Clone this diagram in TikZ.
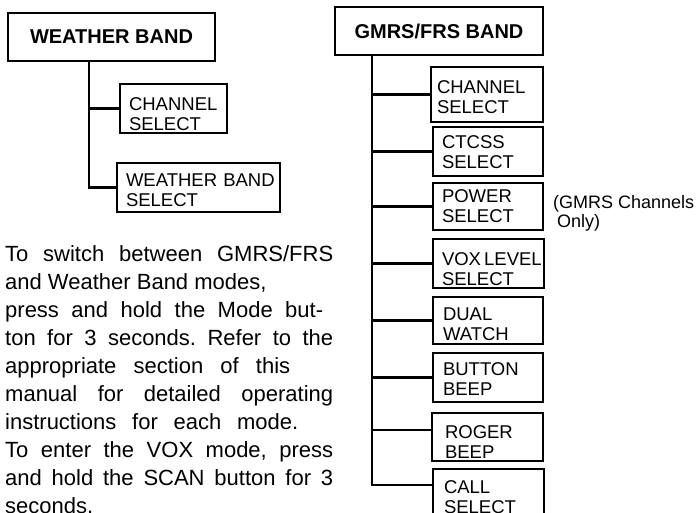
\documentclass[tikz,border=0pt]{standalone}
\usepackage{fontspec}
\setmainfont{Liberation Sans}
\usetikzlibrary{positioning}
\tikzset{
  band head/.style={
    rectangle,
    draw,
    line width=2.6pt,
    anchor=north west,
    outer sep=0pt,
    inner sep=0pt,
    minimum height=48pt,
    font=\bfseries\fontsize{20}{24}\selectfont,
  },
  menu item/.style={
    rectangle,
    draw,
    line width=2.6pt,
    anchor=north west,
    outer sep=0pt,
    inner ysep=0pt,
    align=left,
    font=\fontsize{18.5}{20.5}\selectfont,
  },
  menu branch/.style={line width=2.4pt},
  menu note/.style={
    anchor=base west,
    inner sep=0pt,
    align=left,
  },
}

\begin{document}
\begin{tikzpicture}[x=1pt,y=-1pt]
  \useasboundingbox (0,0) rectangle (696,512);
  % weather band
  \node[band head, minimum width=207pt] (wband) at (8,13) {WEATHER BAND};
  \node[menu item, inner xsep=9pt, text width=89pt, text height=26pt, text depth=23pt]
    (wchan) at (120,84) {CHANNEL\\SELECT};
  \node[menu item, inner xsep=9pt, text width=145pt, text height=23pt, text depth=26pt]
    (wsel) at (117,163) {WEATHER~BAND\\SELECT};
  \coordinate (wtrunk) at ([xshift=81pt]wband.south west);
  \draw[menu branch] (wtrunk) |- (wsel.west);
  \draw[menu branch] (wtrunk |- wchan.west) -- (wchan.west);

  % gmrs/frs band
  \node[band head, minimum width=208pt] (gband) at (335,7) {GMRS/FRS BAND};
  \node[menu item, inner xsep=6pt, text width=100pt, text height=26pt, text depth=29pt]
    (gchan) at (431,67) {CHANNEL\\SELECT};
  \node[menu item, inner xsep=9pt, text width=92pt, text height=21pt, text depth=28pt]
    (gctcss) at (433,127) {CTCSS\\SELECT};
  \node[menu item, inner xsep=9pt, text width=92pt, text height=19pt, text depth=28pt]
    (gpower) at (433,183) {POWER\\SELECT};
  \node[menu item, inner xsep=9pt, text width=93pt, text height=26pt, text depth=23pt]
    (gvox) at (433,239) {VOX\,LEVEL\\SELECT};
  \node[menu item, inner xsep=10pt, text width=90pt, text height=23pt, text depth=24pt]
    (gdual) at (433,297) {DUAL\\WATCH};
  \node[menu item, inner xsep=10pt, text width=90pt, text height=22pt, text depth=27pt]
    (gbutton) at (433,353) {BUTTON\\BEEP};
  \node[menu item, inner xsep=13pt, text width=85pt, text height=25pt, text depth=23pt]
    (groger) at (432,413) {ROGER\\BEEP};
  \node[menu item, inner xsep=11pt, text width=89pt, text height=24pt, text depth=36pt]
    (gcall) at (433,469) {CALL\\SELECT};
  \coordinate (gtrunk) at ([xshift=37pt]gband.south west);
  \draw[menu branch] (gtrunk) |- ([yshift=14pt]gcall.west);
  \draw[menu branch] (gtrunk |- gchan.west) -- (gchan.west);
  \draw[menu branch] (gtrunk |- gctcss.west) -- (gctcss.west);
  \draw[menu branch] (gtrunk |- gpower.west) -- (gpower.west);
  \draw[menu branch] (gtrunk |- gvox.west) -- (gvox.west);
  \draw[menu branch] (gtrunk |- gdual.west) -- (gdual.west);
  \draw[menu branch] (gtrunk |- gbutton.west) -- (gbutton.west);
  \draw[menu branch] ([yshift=7pt]gtrunk |- groger.west) -- ([yshift=7pt]groger.west);

  \node[menu note, font=\fontsize{18}{19}\selectfont] (powernote) at (553,227)
    {(GMRS Channels\\\hspace*{4pt}Only)};

  % mode switching, justified by hand
  \node[menu note, text width=328pt, align=justify,
        font={\fontsize{22}{28}\selectfont\frenchspacing\tolerance10000 \hbadness10000 }]
    (howto) at (5,261) {%
    To switch between GMRS/FRS\linebreak
    and Weather Band modes,\newline
    \hbox to 318pt{press\hfil and\hfil hold\hfil the\hfil Mode\hfil but-}\linebreak
    ton for 3 seconds. Refer to the\linebreak
    appropriate section of this\kern43pt\linebreak
    manual for detailed operating\linebreak
    instructions for each mode.\kern35pt\linebreak
    To enter the VOX mode, press\linebreak
    and hold the SCAN button for 3\linebreak
    seconds.};
\end{tikzpicture}
\end{document}
